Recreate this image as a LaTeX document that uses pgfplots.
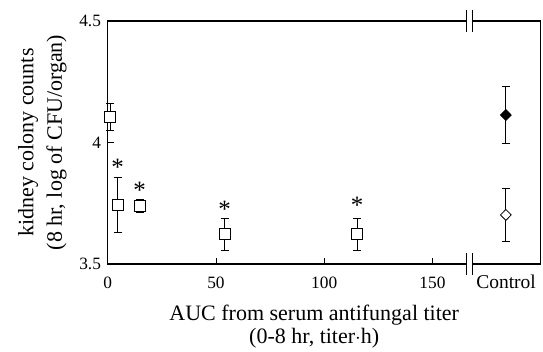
\documentclass[border=0pt]{standalone}
\usepackage{fontspec}
\setmainfont{Liberation Serif}
\usepackage{pgfplots}
\pgfplotsset{compat=1.18}
\begin{document}
\begin{tikzpicture}
\useasboundingbox (-107.7pt,-87pt) rectangle (435.3pt,264pt);
\begin{axis}[
  at={(0,0)}, anchor=south west,
  scale only axis, width=433pt, height=243pt,
  xmin=0, xmax=200, ymin=3.5, ymax=4.5,
  xtick={0,50,100,150}, ytick={3.5,4,4.5},
  extra x ticks={184}, extra x tick labels={Control},
  extra x tick style={major tick length=0pt,
    xticklabel style={font=\fontsize{19.5}{22}\selectfont, yshift=2.3pt}},
  tick align=inside, xtick pos=bottom, ytick pos=left,
  major tick length=6pt,
  axis line style={line width=1.2pt},
  tick style={line width=0.8pt, black},
  tick label style={font=\fontsize{17.3}{20}\selectfont},
  /pgf/number format/assume math mode=true,
  xticklabel style={yshift=-9.5pt},
  yticklabel style={xshift=-3.2pt},
  xlabel={AUC from serum antifungal titer\\(0-8 hr, titer$\cdot$h)},
  xlabel style={font=\fontsize{22}{23.4}\selectfont, align=center,
    at={(axis description cs:0.477,0)}, anchor=center, yshift=-62.5pt},
  ylabel={kidney colony counts\\(8 hr, log of CFU/organ)},
  ylabel style={font=\fontsize{22}{28.4}\selectfont, align=center,
    at={(axis description cs:0,0.5)}, anchor=center, yshift=65.3pt},
  clip=false,
]
\addplot[only marks, mark=square*, mark size=5.5pt,
  mark options={fill=white, draw=black, line width=0.8pt},
  error bars/.cd, y dir=both, y explicit,
  error bar style={line width=0.8pt, black},
  error mark options={rotate=90, mark size=4pt, line width=0.8pt, black}]
  coordinates {
  (1.2,4.106) +- (0,0.055)
  (4.6,3.743) +- (0,0.113)
  (14.7,3.739) +- (0,0.027)
  (54.0,3.622) +- (0,0.067)
  (115.2,3.622) +- (0,0.067)
  };
\addplot[only marks, mark=diamond*, mark size=5.5pt,
  mark options={fill=black, draw=black, line width=0.8pt, xscale=1.3},
  error bars/.cd, y dir=both, y explicit,
  error bar style={line width=0.8pt, black},
  error mark options={rotate=90, mark size=4pt, line width=0.8pt, black}]
  coordinates {(183.9,4.113) +- (0,0.116)};
\addplot[only marks, mark=diamond*, mark size=5.5pt,
  mark options={fill=white, draw=black, line width=0.8pt, xscale=1.3},
  error bars/.cd, y dir=both, y explicit,
  error bar style={line width=0.8pt, black},
  error mark options={rotate=90, mark size=4pt, line width=0.8pt, black}]
  coordinates {(183.9,3.702) +- (0,0.111)};
\addplot[only marks, mark=text, text mark={*}, text mark as node=true,
  text mark style={font=\fontsize{25}{28}\selectfont, yshift=-4pt}]
  coordinates {(4.6,3.914) (14.7,3.818) (54.0,3.743) (115.2,3.756)};
\coordinate (bt) at (axis cs:167,4.5);
\coordinate (bb) at (axis cs:167,3.5);
\end{axis}
\foreach \c in {bt,bb}{
  \fill[white] ([xshift=-2.8pt,yshift=-1.5pt]\c) rectangle ([xshift=2.8pt,yshift=1.5pt]\c);
  \draw[line width=0.8pt] ([xshift=-2.8pt,yshift=-11pt]\c) -- ([xshift=-2.8pt,yshift=11pt]\c);
  \draw[line width=0.8pt] ([xshift=2.8pt,yshift=-11pt]\c) -- ([xshift=2.8pt,yshift=11pt]\c);
}
\end{tikzpicture}
\end{document}
